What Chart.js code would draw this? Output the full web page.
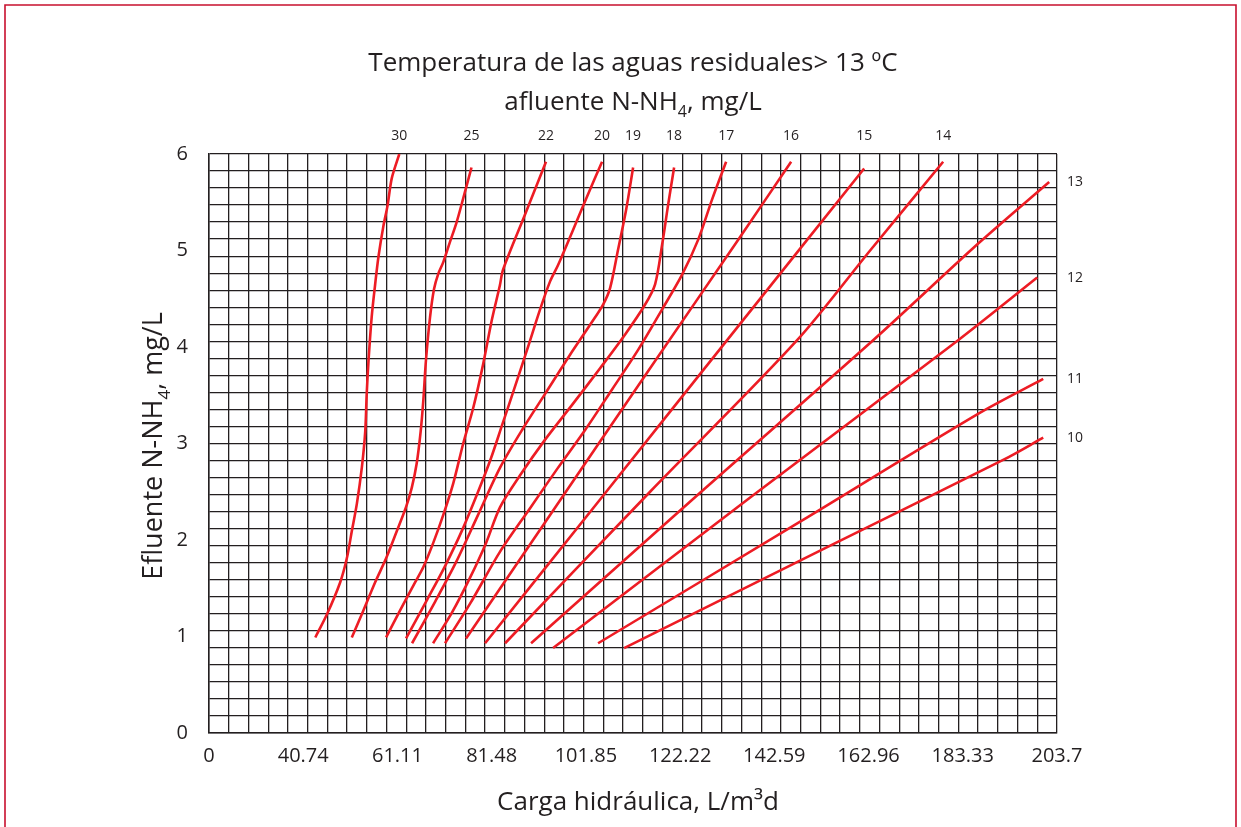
<!DOCTYPE html>
<html>
<head>
<meta charset="utf-8">
<title>Carga hidráulica vs efluente N-NH4</title>
<script src="https://cdn.jsdelivr.net/npm/chart.js@4.4.1/dist/chart.umd.min.js"></script>
<style>
  html, body { margin: 0; padding: 0; background: #ffffff; }
  #wrap { width: 1241px; height: 827px; }
</style>
</head>
<body>
<div id="wrap"><canvas id="chart" width="1241" height="827"></canvas></div>
<script>
// Axis ticks (the first label is printed as 0 on the original sheet)
const xTickValues = [20.37, 40.74, 61.11, 81.48, 101.85, 122.22, 142.59, 162.96, 183.33, 203.7];
const xTickLabels = ['0', '40.74', '61.11', '81.48', '101.85', '122.22', '142.59', '162.96', '183.33', '203.7'];
const yTickValues = [0, 1, 2, 3, 4, 5, 6];

// Influent N-NH4 (mg/L) of each curve
const curveNames = ['30', '25', '22', '20', '19', '18', '17', '16', '15', '14', '13', '12', '11', '10'];

// Curve points: x = carga hidráulica (L/m3d), y = efluente N-NH4 (mg/L)
const x30 = [43.35, 45.87, 48.72, 50.17, 51.24, 52.35, 53.41, 54.14, 54.48, 54.86, 55.54, 56.27, 56.99, 58.06, 58.95, 59.89, 61.51];
const y30 = [0.99, 1.23, 1.56, 1.81, 2.09, 2.38, 2.75, 3.12, 3.53, 3.86, 4.31, 4.64, 4.93, 5.25, 5.46, 5.75, 6.0];

const x25 = [51.24, 53.75, 56.27, 58.66, 60.96, 62.96, 64.20, 65.26, 66.12, 66.71, 67.27, 68.16, 69.02, 69.95, 71.02, 72.47, 73.88, 75.33, 77.12];
const y25 = [0.99, 1.27, 1.56, 1.81, 2.09, 2.34, 2.54, 2.79, 3.12, 3.45, 3.86, 4.31, 4.60, 4.76, 4.88, 5.09, 5.29, 5.54, 5.86];

const x22 = [58.66, 61.68, 64.92, 66.71, 68.85, 71.02, 73.19, 75.33, 77.50, 79.63, 81.47, 83.26, 83.94, 88.67, 93.23];
const y22 = [0.99, 1.27, 1.56, 1.72, 1.97, 2.26, 2.59, 3.00, 3.37, 3.82, 4.27, 4.64, 4.80, 5.37, 5.92];

const x20 = [62.97, 67.51, 71.40, 75.08, 78.54, 81.35, 83.73, 86.32, 89.13, 91.95, 94.11, 95.84, 98.87, 102.11, 105.35];
const y20 = [0.98, 1.38, 1.73, 2.10, 2.50, 2.85, 3.19, 3.56, 3.97, 4.39, 4.68, 4.85, 5.19, 5.56, 5.92];

const x19 = [64.27, 69.24, 73.78, 78.54, 83.30, 88.05, 93.24, 98.43, 102.76, 105.57, 107.08, 108.81, 110.54, 112.06];
const y19 = [0.93, 1.36, 1.77, 2.26, 2.75, 3.14, 3.53, 3.92, 4.23, 4.44, 4.61, 5.01, 5.42, 5.86];

const x18 = [68.81, 72.92, 76.81, 80.27, 83.30, 87.62, 93.03, 98.87, 104.92, 110.33, 114.65, 116.81, 118.33, 119.62, 120.92];
const y18 = [0.93, 1.25, 1.61, 1.97, 2.34, 2.67, 3.04, 3.40, 3.78, 4.13, 4.44, 4.65, 5.06, 5.47, 5.86];

const x17 = [71.40, 76.81, 83.30, 89.78, 95.84, 101.68, 107.51, 113.14, 118.33, 122.65, 126.11, 129.14, 132.17];
const y17 = [0.93, 1.34, 1.88, 2.33, 2.75, 3.14, 3.56, 3.97, 4.39, 4.75, 5.11, 5.53, 5.92];

const x16 = [75.94, 94.11, 115.73, 135.19, 146.22];
const y16 = [0.98, 2.26, 3.78, 5.14, 5.92];

const x15 = [80.05, 104.92, 135.19, 162.01];
const y15 = [0.93, 2.42, 4.24, 5.85];

const x14 = [84.38, 115.73, 147.52, 163.30, 179.09];
const y14 = [0.93, 2.50, 4.07, 5.00, 5.92];

const x13 = [90.00, 126.54, 163.95, 187.09, 202.01];
const y13 = [0.93, 2.49, 4.07, 5.09, 5.71];

const x12 = [94.76, 137.37, 182.33, 199.42];
const y12 = [0.88, 2.44, 4.07, 4.72];

const x11 = [104.49, 148.17, 187.09, 200.72];
const y11 = [0.93, 2.19, 3.32, 3.67];

const x10 = [110.11, 152.49, 192.06, 200.72];
const y10 = [0.88, 1.89, 2.83, 3.06];

const curveX = [x30, x25, x22, x20, x19, x18, x17, x16, x15, x14, x13, x12, x11, x10];
const curveY = [y30, y25, y22, y20, y19, y18, y17, y16, y15, y14, y13, y12, y11, y10];

const ink = '#231f20';
const curveRed = '#ed1c24';
const frameRed = '#c8102e';
const fontFamily = '"Open Sans", "Noto Sans", sans-serif';

const datasets = curveNames.map((name, i) => ({
    label: name,
    data: curveX[i].map((x, j) => ({ x: x, y: curveY[i][j] })),
    borderColor: curveRed,
    borderWidth: 2.6,
    pointRadius: 0,
    tension: 0.3,
    fill: false,
    xAxisID: 'x',
    yAxisID: 'y'
}));

// draws text pieces in a row; pieces marked sub are smaller and dropped
function drawRich(ctx, pieces, cx, cy, size) {
    const subSize = Math.round(size * 0.62);
    let total = 0;
    pieces.forEach(p => {
        ctx.font = (p.sub ? subSize : size) + 'px ' + fontFamily;
        p.w = ctx.measureText(p.t).width;
        total += p.w;
    });
    let x = cx - total / 2;
    ctx.textAlign = 'left';
    ctx.textBaseline = 'alphabetic';
    pieces.forEach(p => {
        ctx.font = (p.sub ? subSize : size) + 'px ' + fontFamily;
        ctx.fillText(p.t, x, cy + (p.sub ? size * 0.28 : 0));
        x += p.w;
    });
}

const decorations = {
    id: 'decorations',
    beforeDraw(chart) {
        const ctx = chart.ctx;
        ctx.save();
        ctx.fillStyle = '#ffffff';
        ctx.fillRect(0, 0, chart.width, chart.height);
        // open red frame round the sheet
        ctx.strokeStyle = frameRed;
        ctx.lineWidth = 1.6;
        ctx.beginPath();
        ctx.moveTo(5, chart.height);
        ctx.lineTo(5, 5);
        ctx.lineTo(1236, 5);
        ctx.lineTo(1236, chart.height);
        ctx.stroke();
        ctx.restore();
    },
    afterDraw(chart) {
        const ctx = chart.ctx;
        const area = chart.chartArea;
        const midX = (area.left + area.right) / 2;
        ctx.save();
        ctx.fillStyle = ink;

        // titles
        drawRich(ctx, [{ t: 'Temperatura de las aguas residuales> 13 ºC' }], midX, 71, 26);
        drawRich(ctx, [{ t: 'afluente N-NH' }, { t: '4', sub: true }, { t: ', mg/L' }], midX, 110, 26);

        // axis titles
        drawRich(ctx, [{ t: 'Carga hidráulica, L/m³d' }], midX + 5, 810, 26);
        ctx.save();
        ctx.translate(162, 446);
        ctx.rotate(-Math.PI / 2);
        drawRich(ctx, [{ t: 'Efluente N-NH' }, { t: '4', sub: true }, { t: ', mg/L' }], 0, 0, 27);
        ctx.restore();

        // curve names: on top for curves ending at the upper edge, on the right otherwise
        ctx.font = '14px ' + fontFamily;
        chart.data.datasets.forEach((ds, i) => {
            const pts = chart.getDatasetMeta(i).data;
            const last = pts[pts.length - 1];
            const lastX = ds.data[ds.data.length - 1].x;
            if (lastX > 195) {
                ctx.textAlign = 'left';
                ctx.textBaseline = 'middle';
                ctx.fillText(ds.label, area.right + 10, last.y);
            } else {
                ctx.textAlign = 'center';
                ctx.textBaseline = 'middle';
                ctx.fillText(ds.label, last.x, area.top - 18);
            }
        });
        ctx.restore();
    }
};

new Chart(document.getElementById('chart'), {
    type: 'line',
    data: { datasets: datasets },
    options: {
        responsive: false,
        animation: false,
        devicePixelRatio: 1,
        layout: { padding: { top: 154, right: 184, left: 0, bottom: 0 } },
        plugins: { legend: { display: false }, tooltip: { enabled: false } },
        scales: {
            x: {
                type: 'linear',
                position: 'bottom',
                weight: 1,
                min: 20.37,
                max: 203.7,
                afterBuildTicks: s => { s.ticks = xTickValues.map(v => ({ value: v })); },
                afterFit: s => { s.height = 94; },
                grid: { display: false },
                border: { display: false },
                ticks: {
                    color: ink,
                    padding: 3,
                    maxRotation: 0,
                    autoSkip: false,
                    font: { family: fontFamily, size: 20 },
                    callback: (v, i) => xTickLabels[i]
                }
            },
            xg: {
                type: 'linear',
                position: 'bottom',
                weight: 0,
                min: 0,
                max: 43,
                afterBuildTicks: s => { s.ticks = Array.from({ length: 44 }, (_, i) => ({ value: i })); },
                afterFit: s => { s.height = 0; },
                grid: { color: ink, lineWidth: 1.3, drawTicks: false },
                border: { color: ink, width: 1.5 },
                ticks: { display: false, autoSkip: false }
            },
            y: {
                type: 'linear',
                position: 'left',
                weight: 1,
                min: 0,
                max: 6,
                afterBuildTicks: s => { s.ticks = yTickValues.map(v => ({ value: v })); },
                afterFit: s => { s.width = 209; },
                grid: { display: false },
                border: { display: false },
                ticks: {
                    color: ink,
                    padding: 13,
                    font: { family: fontFamily, size: 20 }
                }
            },
            yg: {
                type: 'linear',
                position: 'left',
                weight: 0,
                min: 0,
                max: 34,
                afterBuildTicks: s => { s.ticks = Array.from({ length: 35 }, (_, i) => ({ value: i })); },
                afterFit: s => { s.width = 0; },
                grid: { color: ink, lineWidth: 1.3, drawTicks: false },
                border: { color: ink, width: 1.5 },
                ticks: { display: false, autoSkip: false }
            }
        }
    },
    plugins: [decorations]
});
</script>
</body>
</html>
